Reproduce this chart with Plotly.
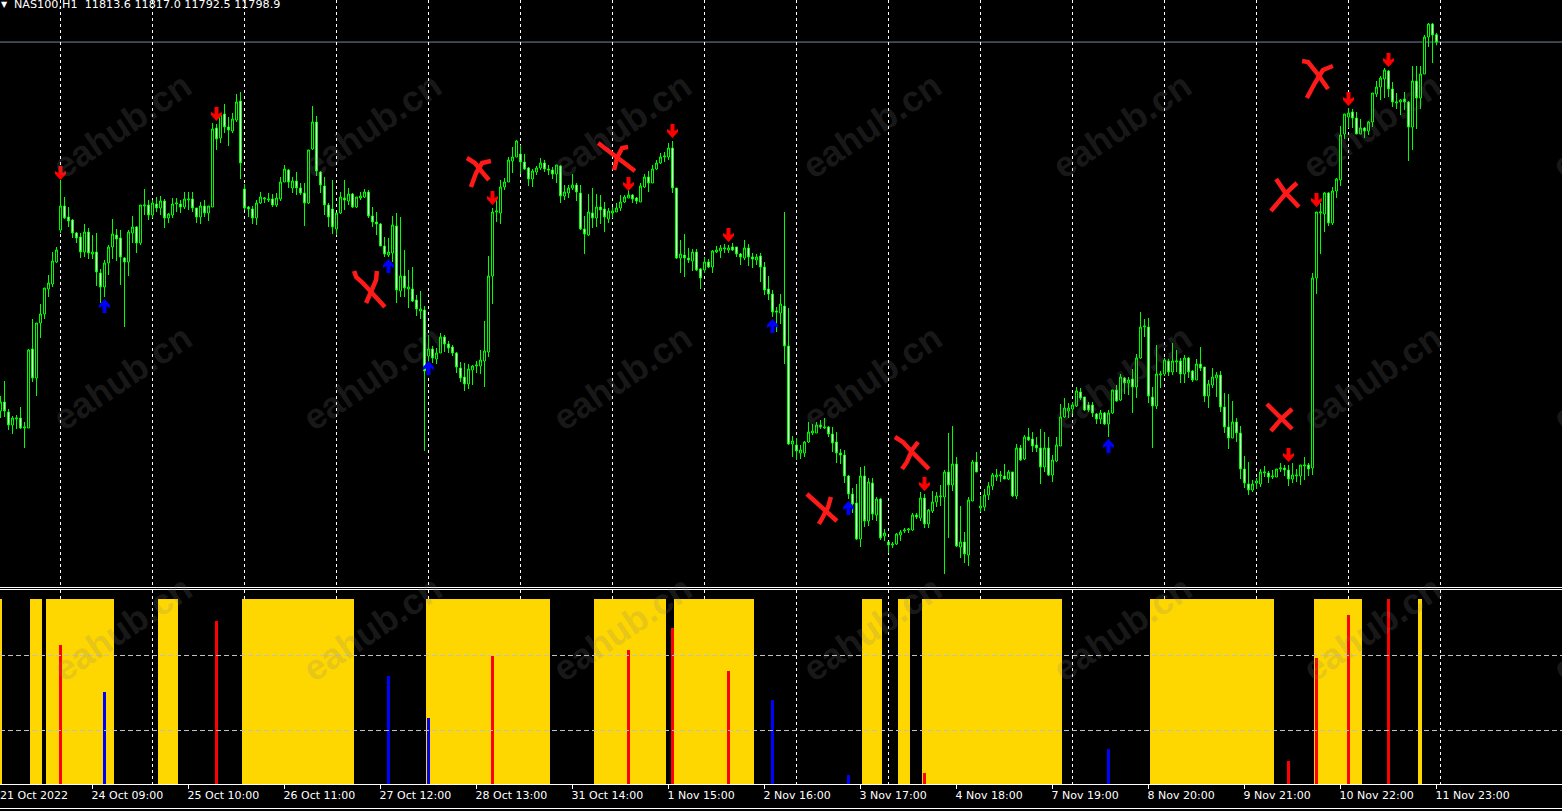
# NAS100 H1 chart with the signal histogram pane underneath
import plotly.graph_objects as go

# Candles, one entry per H1 bar, oldest first.
opens = [
    11061, 11079, 11059, 11033, 11045, 11047, 11027, 11027, 11185, 11127,
    11237, 11255, 11305, 11315, 11359, 11423, 11471, 11449, 11443, 11417,
    11409, 11379, 11419, 11375, 11379, 11337, 11309, 11357, 11389, 11413,
    11407, 11367, 11359, 11417, 11429, 11397, 11471, 11473, 11453, 11475,
    11467, 11481, 11447, 11453, 11475, 11475, 11469, 11483, 11485, 11467,
    11449, 11471, 11457, 11469, 11627, 11607, 11655, 11629, 11621, 11643,
    11681, 11505, 11469, 11465, 11447, 11477, 11485, 11483, 11485, 11473,
    11485, 11519, 11543, 11507, 11521, 11507, 11497, 11477, 11585, 11639,
    11539, 11511, 11473, 11465, 11425, 11457, 11487, 11481, 11495, 11469,
    11487, 11489, 11499, 11451, 11439, 11435, 11391, 11373, 11377, 11431,
    11301, 11331, 11305, 11305, 11283, 11261, 11263, 11171, 11185, 11165,
    11177, 11209, 11195, 11189, 11177, 11147, 11129, 11115, 11143, 11151,
    11151, 11161, 11179, 11331, 11459, 11457, 11509, 11519, 11561, 11569,
    11575, 11559, 11547, 11525, 11539, 11547, 11557, 11545, 11543, 11535,
    11551, 11491, 11497, 11507, 11513, 11497, 11425, 11413, 11457, 11447,
    11469, 11465, 11445, 11457, 11459, 11467, 11479, 11487, 11493, 11487,
    11479, 11509, 11529, 11517, 11545, 11557, 11569, 11569, 11587, 11507,
    11367, 11373, 11367, 11361, 11379, 11345, 11343, 11359, 11349, 11379,
    11381, 11385, 11383, 11389, 11389, 11375, 11367, 11387, 11369, 11363,
    11371, 11349, 11305, 11295, 11261, 11257, 11271, 11191, 10995, 10993,
    10977, 10977, 10999, 11017, 11017, 11033, 11027, 11029, 11015, 10999,
    10977, 10973, 10931, 10895, 10877, 10805, 10931, 10841, 10917, 10853,
    10885, 10811, 10799, 10793, 10795, 10813, 10821, 10823, 10823, 10853,
    10847, 10887, 10835, 10861, 10879, 10889, 10889, 10939, 10913, 10955,
    10789, 10799, 10773, 10881, 10959, 10867, 10869, 10893, 10911, 10929,
    10931, 10931, 10925, 10939, 10891, 10987, 10965, 11009, 11005, 10993,
    10987, 10949, 10987, 10933, 10961, 10991, 11049, 11061, 11065, 11071,
    11099, 11089, 11073, 11073, 11055, 11045, 11057, 11035, 11057, 11103,
    11083, 11127, 11117, 11125, 11109, 11167, 11229, 11229, 11089, 11071,
    11133, 11135, 11161, 11139, 11159, 11161, 11135, 11167, 11141, 11123,
    11155, 11149, 11091, 11113, 11127, 11133, 11069, 11029, 11007, 11039,
    11017, 10945, 10915, 10903, 10917, 10915, 10937, 10937, 10929, 10929,
    10945, 10947, 10943, 10925, 10931, 10931, 10951, 10953, 10947, 11327,
    11457, 11455, 11497, 11437, 11501, 11523, 11615, 11649, 11659, 11647,
    11615, 11627, 11621, 11639, 11695, 11709, 11725, 11741, 11705, 11677,
    11679, 11685, 11679, 11629, 11721, 11687, 11735, 11809, 11835, 11813.6,
]
highs = [
    11091, 11121, 11065, 11051, 11053, 11069, 11039, 11185, 11245, 11237,
    11275, 11307, 11333, 11379, 11389, 11523, 11489, 11469, 11445, 11419,
    11417, 11435, 11427, 11413, 11417, 11345, 11363, 11393, 11445, 11425,
    11423, 11369, 11423, 11451, 11431, 11473, 11505, 11483, 11483, 11489,
    11491, 11485, 11457, 11487, 11487, 11483, 11499, 11499, 11499, 11467,
    11479, 11483, 11471, 11637, 11635, 11657, 11675, 11649, 11657, 11695,
    11699, 11515, 11471, 11471, 11483, 11499, 11489, 11497, 11495, 11497,
    11529, 11553, 11545, 11529, 11539, 11517, 11517, 11583, 11671, 11651,
    11541, 11529, 11477, 11523, 11457, 11499, 11523, 11507, 11497, 11489,
    11499, 11505, 11503, 11469, 11459, 11437, 11409, 11407, 11451, 11457,
    11449, 11383, 11343, 11349, 11293, 11301, 11271, 11213, 11191, 11187,
    11217, 11213, 11201, 11193, 11179, 11159, 11157, 11155, 11153, 11161,
    11183, 11241, 11371, 11467, 11489, 11523, 11527, 11569, 11589, 11603,
    11593, 11575, 11549, 11545, 11551, 11567, 11563, 11553, 11549, 11553,
    11553, 11513, 11513, 11535, 11517, 11513, 11451, 11495, 11507, 11495,
    11493, 11479, 11467, 11469, 11477, 11493, 11493, 11503, 11495, 11489,
    11517, 11535, 11541, 11553, 11563, 11577, 11579, 11597, 11601, 11507,
    11403, 11415, 11387, 11385, 11385, 11347, 11369, 11365, 11383, 11391,
    11393, 11395, 11393, 11397, 11389, 11377, 11403, 11395, 11377, 11375,
    11377, 11359, 11331, 11303, 11269, 11295, 11459, 11267, 11011, 11007,
    10993, 11001, 11039, 11035, 11039, 11043, 11047, 11031, 11029, 11019,
    10985, 10983, 10933, 10907, 10915, 10949, 10951, 10927, 10927, 10889,
    10887, 10825, 10799, 10799, 10817, 10823, 10827, 10827, 10857, 10857,
    10899, 10895, 10865, 10901, 10899, 10913, 10943, 11017, 11031, 10969,
    10871, 10819, 10889, 10963, 10979, 10891, 10905, 10919, 10937, 10945,
    10941, 10955, 10943, 10939, 10995, 10993, 11013, 11027, 11019, 11009,
    11025, 11019, 11009, 10973, 11009, 11075, 11087, 11077, 11079, 11109,
    11107, 11089, 11079, 11079, 11057, 11063, 11059, 11063, 11103, 11113,
    11135, 11129, 11129, 11145, 11175, 11259, 11245, 11247, 11109, 11193,
    11141, 11167, 11165, 11197, 11183, 11167, 11173, 11169, 11143, 11165,
    11189, 11149, 11123, 11147, 11139, 11141, 11097, 11095, 11081, 11047,
    11031, 10971, 10959, 10923, 10927, 10945, 10951, 10941, 10943, 10945,
    10957, 10953, 10953, 10957, 10945, 10953, 10969, 10957, 11337, 11459,
    11477, 11499, 11499, 11509, 11527, 11631, 11655, 11667, 11665, 11659,
    11645, 11629, 11641, 11697, 11721, 11731, 11747, 11743, 11719, 11697,
    11685, 11699, 11681, 11751, 11751, 11751, 11813, 11837, 11837, 11817.0,
]
lows = [
    11047, 11049, 11023, 11015, 11025, 11025, 10987, 11027, 11119, 11091,
    11207, 11245, 11289, 11309, 11357, 11417, 11445, 11429, 11407, 11397,
    11367, 11369, 11365, 11365, 11311, 11277, 11289, 11333, 11365, 11361,
    11313, 11229, 11331, 11397, 11377, 11393, 11453, 11443, 11447, 11459,
    11453, 11427, 11437, 11447, 11459, 11457, 11465, 11463, 11459, 11437,
    11435, 11449, 11441, 11469, 11583, 11597, 11617, 11591, 11617, 11639,
    11525, 11463, 11449, 11435, 11433, 11475, 11477, 11479, 11469, 11469,
    11481, 11519, 11507, 11497, 11493, 11493, 11431, 11475, 11583, 11531,
    11497, 11453, 11429, 11415, 11413, 11455, 11463, 11473, 11467, 11467,
    11483, 11487, 11447, 11429, 11413, 11391, 11369, 11369, 11359, 11277,
    11289, 11289, 11267, 11279, 11251, 11245, 10981, 11157, 11157, 11155,
    11177, 11179, 11177, 11171, 11137, 11119, 11101, 11105, 11113, 11137,
    11135, 11109, 11169, 11275, 11439, 11435, 11503, 11519, 11537, 11569,
    11535, 11543, 11511, 11509, 11533, 11543, 11539, 11533, 11525, 11517,
    11477, 11483, 11487, 11503, 11481, 11423, 11375, 11411, 11427, 11429,
    11435, 11419, 11437, 11447, 11459, 11461, 11477, 11487, 11477, 11475,
    11479, 11507, 11499, 11517, 11543, 11555, 11559, 11563, 11497, 11365,
    11337, 11329, 11357, 11341, 11341, 11305, 11337, 11347, 11337, 11377,
    11367, 11377, 11377, 11381, 11369, 11353, 11363, 11351, 11347, 11353,
    11319, 11293, 11283, 11249, 11219, 11235, 11155, 10993, 10969, 10963,
    10965, 10969, 10997, 11013, 11017, 11025, 11025, 11009, 10979, 10957,
    10955, 10917, 10885, 10857, 10803, 10789, 10829, 10831, 10843, 10841,
    10803, 10801, 10777, 10787, 10793, 10801, 10817, 10817, 10821, 10845,
    10841, 10827, 10827, 10857, 10869, 10871, 10735, 10807, 10901, 10789,
    10767, 10757, 10751, 10881, 10939, 10859, 10861, 10883, 10903, 10921,
    10919, 10925, 10923, 10889, 10885, 10961, 10963, 11001, 10979, 10979,
    10915, 10939, 10931, 10919, 10959, 10991, 11047, 11047, 11055, 11069,
    11083, 11061, 11059, 11049, 11035, 11035, 11033, 11009, 11055, 11079,
    11081, 11095, 11093, 11057, 11087, 11165, 11209, 11077, 10987, 11065,
    11107, 11131, 11131, 11133, 11139, 11117, 11117, 11127, 11119, 11123,
    11141, 11079, 11067, 11107, 11089, 11059, 11017, 10985, 11007, 10999,
    10925, 10907, 10893, 10899, 10905, 10909, 10929, 10917, 10925, 10929,
    10939, 10931, 10911, 10917, 10919, 10913, 10923, 10931, 10933, 11295,
    11375, 11419, 11431, 11433, 11487, 11511, 11605, 11627, 11627, 11615,
    11615, 11607, 11613, 11629, 11689, 11683, 11687, 11689, 11669, 11665,
    11653, 11663, 11561, 11583, 11625, 11665, 11735, 11789, 11757, 11792.5,
]
closes = [
    11079, 11061, 11033, 11047, 11047, 11027, 11029, 11183, 11127, 11237,
    11255, 11307, 11317, 11361, 11383, 11471, 11447, 11441, 11417, 11407,
    11379, 11419, 11377, 11379, 11339, 11309, 11357, 11389, 11415, 11405,
    11369, 11359, 11419, 11429, 11397, 11473, 11473, 11453, 11477, 11467,
    11481, 11447, 11455, 11475, 11477, 11469, 11485, 11485, 11467, 11449,
    11471, 11457, 11471, 11625, 11605, 11655, 11629, 11623, 11645, 11679,
    11557, 11467, 11465, 11447, 11477, 11489, 11487, 11485, 11473, 11487,
    11519, 11545, 11519, 11521, 11507, 11497, 11477, 11583, 11639, 11541,
    11513, 11473, 11449, 11429, 11457, 11489, 11483, 11495, 11469, 11489,
    11491, 11499, 11451, 11439, 11435, 11391, 11375, 11379, 11433, 11303,
    11331, 11307, 11309, 11281, 11265, 11265, 11141, 11185, 11167, 11177,
    11209, 11195, 11187, 11177, 11149, 11127, 11115, 11145, 11151, 11153,
    11163, 11181, 11331, 11459, 11461, 11509, 11519, 11563, 11569, 11601,
    11559, 11545, 11525, 11541, 11547, 11557, 11545, 11543, 11535, 11553,
    11491, 11499, 11507, 11513, 11499, 11425, 11415, 11459, 11447, 11469,
    11463, 11449, 11461, 11461, 11467, 11479, 11489, 11493, 11485, 11481,
    11511, 11529, 11517, 11545, 11557, 11569, 11571, 11587, 11507, 11367,
    11375, 11367, 11363, 11379, 11343, 11327, 11359, 11349, 11381, 11383,
    11387, 11387, 11387, 11383, 11375, 11369, 11387, 11369, 11365, 11369,
    11349, 11303, 11295, 11259, 11259, 11275, 11191, 10995, 11001, 10981,
    10983, 10999, 11019, 11021, 11033, 11029, 11029, 11015, 10997, 10977,
    10973, 10931, 10895, 10875, 10805, 10931, 10841, 10919, 10855, 10885,
    10807, 10817, 10793, 10795, 10815, 10819, 10823, 10825, 10853, 10849,
    10887, 10835, 10863, 10879, 10891, 10891, 10939, 10913, 10955, 10791,
    10799, 10775, 10883, 10959, 10939, 10871, 10893, 10911, 10933, 10933,
    10933, 10925, 10939, 10891, 10987, 10963, 11009, 11003, 10991, 10987,
    10949, 10987, 10933, 10963, 10993, 11049, 11067, 11067, 11073, 11101,
    11087, 11063, 11063, 11057, 11045, 11057, 11035, 11057, 11103, 11081,
    11129, 11117, 11123, 11109, 11167, 11229, 11231, 11091, 11071, 11135,
    11135, 11163, 11139, 11161, 11161, 11135, 11167, 11139, 11123, 11155,
    11147, 11091, 11115, 11129, 11133, 11069, 11029, 11007, 11039, 11017,
    10945, 10917, 10903, 10915, 10921, 10939, 10939, 10929, 10931, 10945,
    10947, 10943, 10925, 10933, 10933, 10953, 10953, 10945, 11327, 11459,
    11459, 11497, 11437, 11501, 11525, 11613, 11655, 11657, 11647, 11615,
    11627, 11621, 11639, 11697, 11709, 11727, 11743, 11705, 11679, 11679,
    11683, 11679, 11629, 11721, 11687, 11735, 11809, 11835, 11813, 11798.9,
]
bid_price = 11798.9
header_text = "NAS100,H1  11813.6 11817.0 11792.5 11798.9"

# Signal arrows: bar number and the price at the arrow tip.
sell_bars = [15, 54, 123, 157, 168, 182, 231, 322, 329, 337, 347]
sell_tips = [11523, 11641, 11473, 11501, 11607, 11399, 10901, 10959, 11469, 11671, 11749]
buy_bars = [26, 97, 107, 193, 212, 277]
buy_tips = [11285, 11365, 11161, 11245, 10881, 11005]

# Hand drawn red crosses over the chart, None splits the strokes.
cross_bars = [
    88.4, 88.9, 90.6, 92.6, 94.4, 96.1, None, 94.1, 93.9, 92.6, 91.4, None,
    116.6, 118.6, 120.4, 122.1, None, 122.6, 120.4, 118.9, 117.6, None,
    149.4, 152.4, 154.9, 158.6, None, 156.9, 155.4, 154.1, 153.4, None,
    201.6, 203.6, 206.1, 209.1, None, 207.6, 206.9, 205.6, 204.6, None,
    223.6, 225.6, 227.9, 230.4, 232.1, None, 229.4, 227.9, 226.6, 225.4, None,
    318.9, 321.1, 324.6, None, 324.1, 321.4, 317.6, None,
    316.6, 318.1, 320.4, 322.9, None, 322.9, 320.4, 317.6, None,
    325.4, 326.9, 329.1, 331.9, None, 333.1, 330.6, 328.6, 326.6,
]
cross_prices = [
    11341, 11329, 11317, 11299, 11281, 11269, None, 11341, 11323, 11299, 11277, None,
    11567, 11557, 11539, 11523, None, 11561, 11557, 11537, 11509, None,
    11597, 11579, 11563, 11541, None, 11589, 11587, 11567, 11543, None,
    10895, 10881, 10861, 10841, None, 10889, 10869, 10849, 10835, None,
    11009, 10999, 10979, 10959, 10945, None, 10999, 10983, 10959, 10945, None,
    11525, 11499, 11469, None, 11517, 11497, 11461, None,
    11075, 11063, 11045, 11025, None, 11065, 11047, 11021, None,
    11761, 11759, 11737, 11705, None, 11751, 11743, 11717, 11687,
]

# Lower pane: gold runs (first and last bar) and the red / blue spikes.
gold_first = [0, 8, 12, 40, 61, 107, 149, 169, 216, 225, 231, 288, 329, 355]
gold_last = [0, 10, 28, 44, 88, 137, 166, 188, 220, 227, 265, 318, 340, 355]
gold_level = 100
red_bars = [15, 54, 123, 157, 168, 182, 231, 322, 329, 337, 347]
red_values = [75.6, 88.4, 69.7, 72.9, 84.7, 61.7, 7.3, 13.7, 68.7, 91.6, 100]
blue_bars = [26, 97, 107, 193, 212, 277]
blue_values = [50.5, 59, 36.7, 46.3, 6.3, 20.1]
levels = [30, 70]

# Time axis.
first_label = "21 Oct 2022"
time_bars = [23, 47, 71, 95, 119, 143, 167, 191, 215, 239, 263, 287, 311, 335, 359]
time_labels = [
    "24 Oct 09:00", "25 Oct 10:00", "26 Oct 11:00", "27 Oct 12:00", "28 Oct 13:00",
    "31 Oct 14:00", "1 Nov 15:00", "2 Nov 16:00", "3 Nov 17:00", "4 Nov 18:00",
    "7 Nov 19:00", "8 Nov 20:00", "9 Nov 21:00", "10 Nov 22:00", "11 Nov 23:00",
]
grid_bars = [15, 38, 61, 84, 107, 130, 153, 176, 199, 222, 245, 268, 291, 314, 337, 360]

W, H = 1562, 811
FONT = "DejaVu Sans"
x_range = [-0.125, 390.375]
bars = list(range(len(opens)))

# Arrow outlines in pixels around the tip, barbs swept back like the MT4 arrows.
DOWN_ARROW = "M 0 0 L 5.5 6 L 5.5 9 L 2 7 L 2 14 L -2 14 L -2 7 L -5.5 9 L -5.5 6 Z"
UP_ARROW = "M 0 0 L 5.5 -6 L 5.5 -9 L 2 -7 L 2 -14 L -2 -14 L -2 -7 L -5.5 -9 L -5.5 -6 Z"

gold_bars = []
for first, last in zip(gold_first, gold_last):
    gold_bars.extend(range(first, last + 1))

fig = go.Figure()

fig.add_trace(go.Candlestick(
    x=bars, open=opens, high=highs, low=lows, close=closes,
    increasing=dict(line=dict(color="#00FF00", width=1), fillcolor="#000000"),
    decreasing=dict(line=dict(color="#00FF00", width=1), fillcolor="#FFFFFF"),
    hoverinfo="skip", xaxis="x", yaxis="y",
))

# Crosses
fig.add_trace(go.Scatter(
    x=cross_bars, y=cross_prices, mode="lines",
    line=dict(color="#FF1A1A", width=4.5),
    connectgaps=False, xaxis="x", yaxis="y",
))

# Lower pane
fig.add_trace(go.Bar(x=gold_bars, y=[gold_level] * len(gold_bars), width=1, offset=-0.625,
                     marker=dict(color="#FFD700", line=dict(width=0)), xaxis="x2", yaxis="y2"))
fig.add_trace(go.Bar(x=red_bars, y=red_values, width=0.8,
                     marker=dict(color="#FF0000", line=dict(width=0)), xaxis="x2", yaxis="y2"))
fig.add_trace(go.Bar(x=blue_bars, y=blue_values, width=0.8,
                     marker=dict(color="#0000FF", line=dict(width=0)), xaxis="x2", yaxis="y2"))

shapes = [
    # bid line
    dict(type="line", xref="paper", x0=0, x1=1, yref="y", y0=bid_price, y1=bid_price,
         line=dict(color="#778899", width=1), layer="below"),
    # pane separators and bottom frame
    dict(type="line", xref="paper", x0=0, x1=1, yref="paper", y0=1 - 587.5 / H, y1=1 - 587.5 / H,
         line=dict(color="#FFFFFF", width=1)),
    dict(type="line", xref="paper", x0=0, x1=1, yref="paper", y0=1 - 589.5 / H, y1=1 - 589.5 / H,
         line=dict(color="#FFFFFF", width=1)),
    dict(type="line", xref="paper", x0=0, x1=1, yref="paper", y0=1 - 808.5 / H, y1=1 - 808.5 / H,
         line=dict(color="#FFFFFF", width=1)),
]
for level in levels:
    shapes.append(dict(type="line", xref="paper", x0=0, x1=1, yref="y2", y0=level, y1=level,
                       line=dict(color="#C0C0C0", width=1, dash="5px,3px")))
for bar, tip in zip(sell_bars, sell_tips):
    shapes.append(dict(type="path", path=DOWN_ARROW, xref="x", yref="y", xsizemode="pixel", ysizemode="pixel",
                       xanchor=bar, yanchor=tip, fillcolor="#FF0000", line=dict(width=0)))
for bar, tip in zip(buy_bars, buy_tips):
    shapes.append(dict(type="path", path=UP_ARROW, xref="x", yref="y", xsizemode="pixel", ysizemode="pixel",
                       xanchor=bar, yanchor=tip, fillcolor="#0000FF", line=dict(width=0)))

annotations = [
    dict(text=header_text, xref="paper", yref="paper", x=12 / W, y=1 - 4.5 / H, xanchor="left",
         yanchor="middle", showarrow=False, font=dict(family=FONT, size=11.2, color="#FFFFFF")),
    dict(text="▼", xref="paper", yref="paper", x=4 / W, y=1 - 4.5 / H, xanchor="center",
         yanchor="middle", showarrow=False, font=dict(family=FONT, size=8, color="#FFFFFF")),
    dict(text=first_label, xref="paper", yref="paper", x=-2 / W, y=1 - 795.5 / H, xanchor="left",
         yanchor="middle", showarrow=False, font=dict(family=FONT, size=11, color="#FFFFFF")),
]
# eahub.cn watermark tiled across the screenshot
for cy in (126, 377, 628):
    for cx in (122, 372, 622, 872, 1122, 1372, 1622):
        annotations.append(dict(
            text="eahub.cn", xref="paper", yref="paper", x=cx / W, y=1 - cy / H,
            showarrow=False, textangle=-34, xanchor="center", yanchor="middle",
            font=dict(family="Liberation Sans", size=36, color="rgba(128,128,128,0.2)", weight="bold"),
        ))

fig.update_layout(
    width=W, height=H,
    margin=dict(l=0, r=0, t=0, b=0),
    paper_bgcolor="#000000", plot_bgcolor="#000000",
    showlegend=False, barmode="overlay", bargap=0,
    xaxis=dict(
        domain=[0, 1], range=x_range, rangeslider=dict(visible=False), anchor="y",
        tickmode="array", tickvals=grid_bars, showticklabels=False, ticks="",
        showgrid=True, gridcolor="#FFFFFF", griddash="3px,3px", gridwidth=1, zeroline=False,
    ),
    yaxis=dict(
        domain=[1 - 587 / H, 1], range=[11883 - 2 * 587, 11883],
        showgrid=False, showticklabels=False, ticks="", zeroline=False,
    ),
    xaxis2=dict(
        domain=[0, 1], range=x_range, anchor="y2",
        tickmode="array", tickvals=time_bars, ticktext=time_labels,
        ticks="outside", ticklen=4, tickcolor="#FFFFFF", tickwidth=1,
        ticklabelposition="outside right", tickangle=0, ticklabelshift=-2, ticklabelstandoff=1,
        tickfont=dict(family=FONT, size=11, color="#FFFFFF"),
        showline=True, linecolor="#FFFFFF", linewidth=1, zeroline=False, showgrid=False,
        minor=dict(tickmode="array", tickvals=grid_bars, ticks="", showgrid=True,
                   gridcolor="#FFFFFF", griddash="3px,3px", gridwidth=1),
    ),
    yaxis2=dict(
        domain=[1 - 784 / H, 1 - 590 / H], range=[1.47, 104.93],
        showgrid=False, showticklabels=False, ticks="", zeroline=False,
    ),
    shapes=shapes, annotations=annotations,
)

fig.write_html("out.html", config=dict(displayModeBar=False),
               post_script="document.body.style.margin='0';document.body.style.overflow='hidden';")
